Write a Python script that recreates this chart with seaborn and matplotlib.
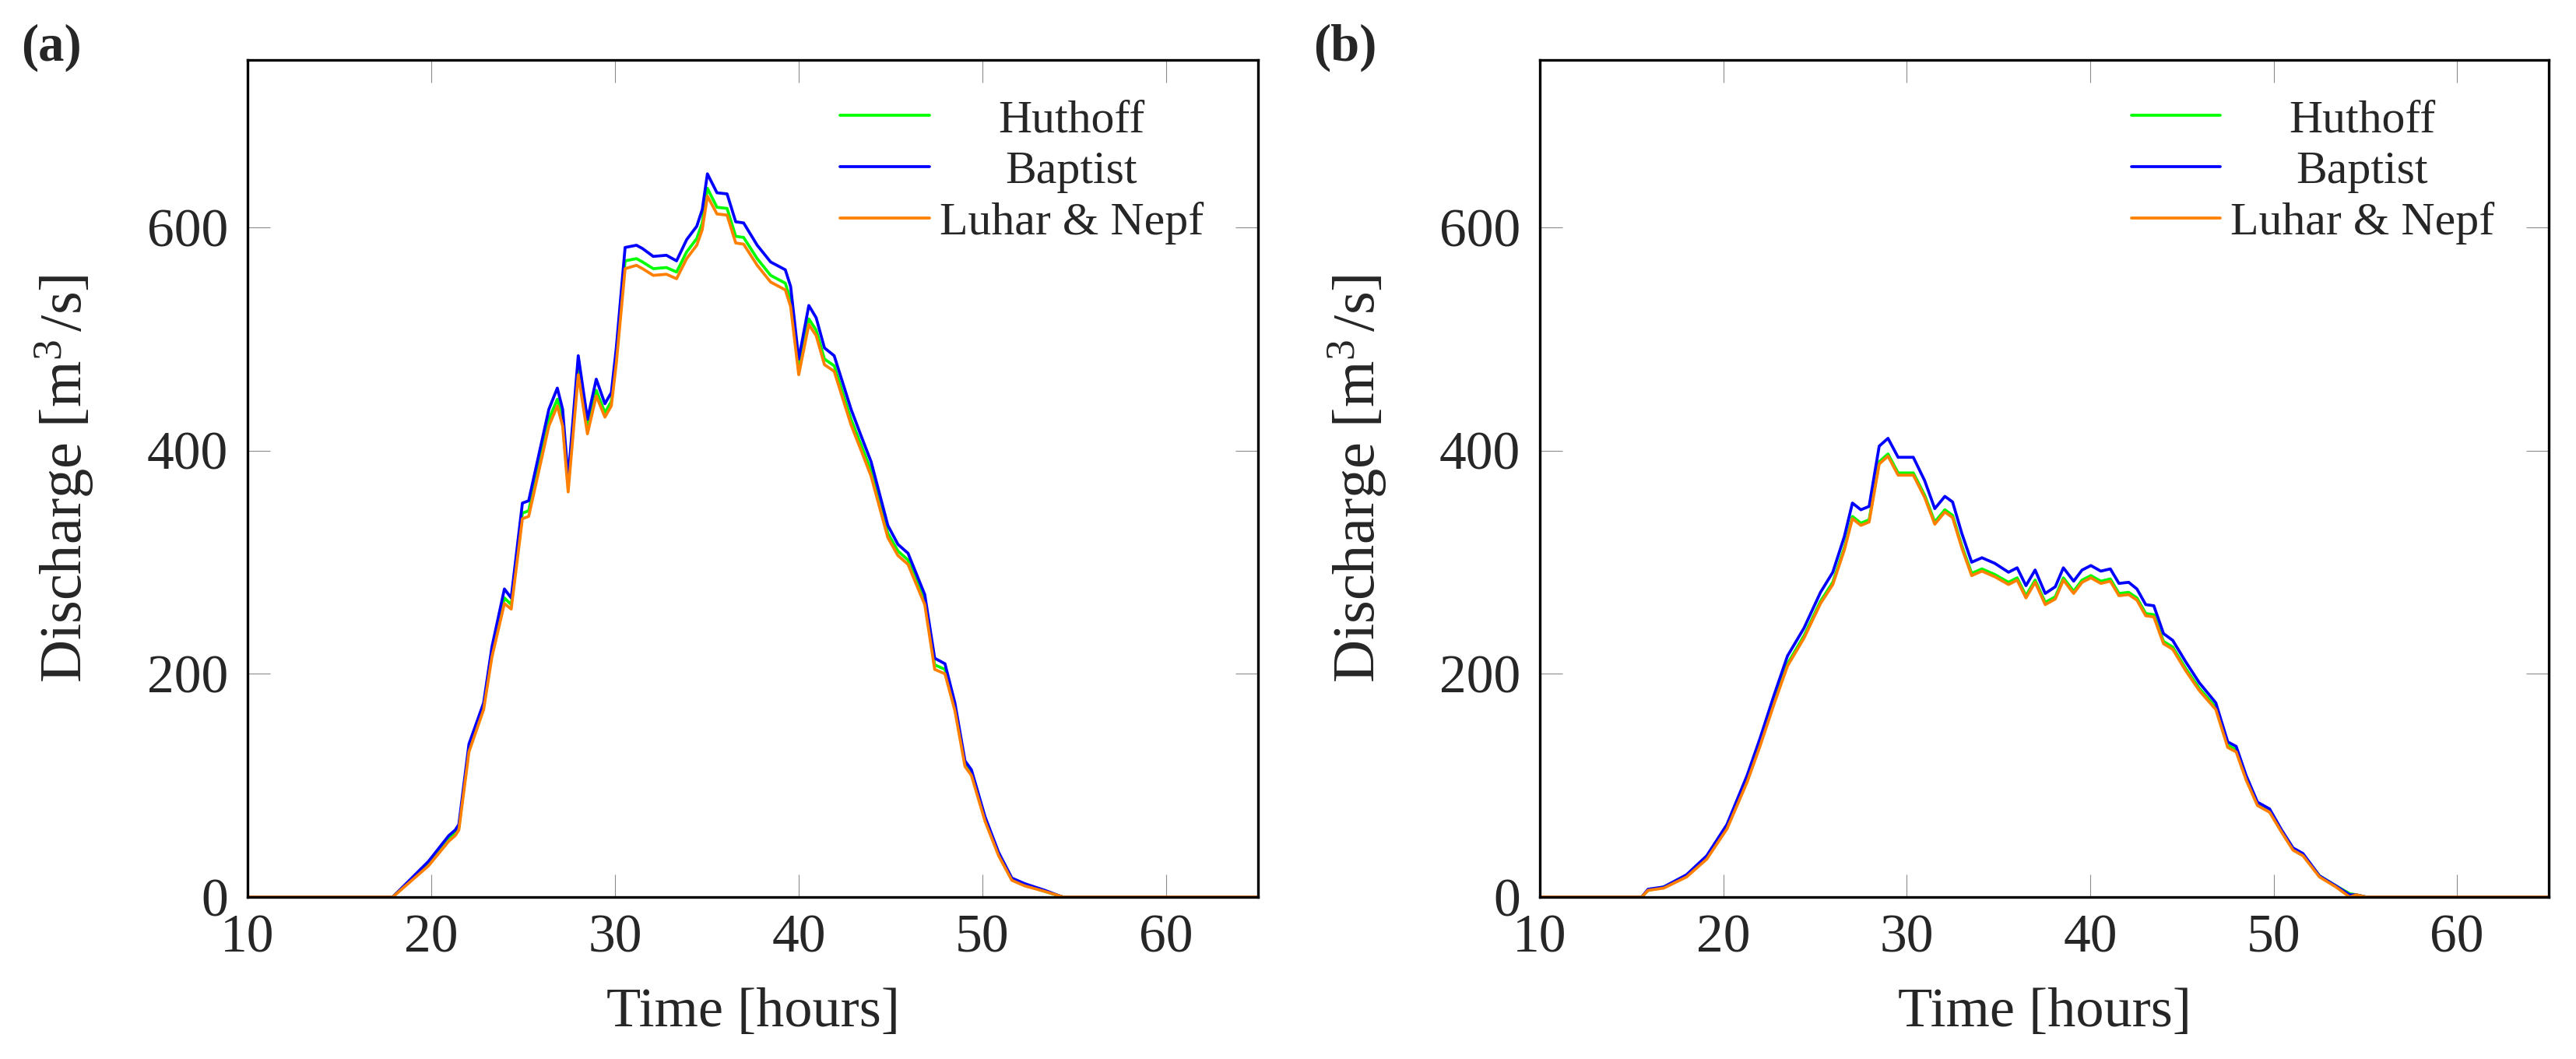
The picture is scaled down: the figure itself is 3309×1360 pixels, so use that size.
import numpy as np
import pandas as pd
import matplotlib
matplotlib.use("Agg")
import matplotlib.pyplot as plt
import seaborn as sns

# panel (a)
time_a = [10, 17.9, 19.85, 20.95, 21.3, 21.5, 22.05, 22.85, 23.3, 23.98,
          24.35, 24.96, 25.3, 26.4, 26.86, 27.15, 27.45, 28.0, 28.5, 28.98,
          29.45, 29.8, 30.07, 30.55, 31.17, 31.5, 32.08, 32.8, 33.35, 33.9,
          34.45, 34.75, 35.03, 35.55, 36.1, 36.57, 37.0, 37.74, 38.47, 39.27,
          39.56, 40.0, 40.55, 40.95, 41.4, 41.93, 42.85, 43.4, 43.94, 44.85,
          45.4, 45.95, 46.86, 47.4, 47.96, 48.5, 49.05, 49.4, 50.14, 50.88,
          51.6, 52.3, 53.4, 54.2, 54.4, 65]
huthoff_a = [0, 0, 30, 52, 57, 62, 134, 171, 219, 268,
             262, 344, 346, 428, 446, 428, 368, 474, 420, 454,
             434, 444, 483, 570, 572, 569, 563, 564, 560, 578,
             590, 604, 635, 618, 617, 592, 591, 572, 557, 550,
             535, 474, 518, 508, 482, 476, 428, 405, 382, 326,
             310, 302, 265, 208, 204, 170, 119, 111, 70, 38,
             16, 11, 5, 1, 0, 0]
baptist_a = [0, 0, 32, 55, 60, 65, 137, 174, 224, 276,
             268, 353, 355, 437, 456, 437, 375, 485, 428, 464,
             442, 452, 492, 582, 584, 581, 574, 575, 570, 589,
             601, 616, 648, 631, 630, 605, 604, 584, 569, 562,
             547, 482, 530, 519, 492, 485, 437, 413, 390, 333,
             316, 308, 271, 214, 209, 174, 122, 114, 72, 40,
             17, 12, 6, 1, 0, 0]
luhar_a = [0, 0, 28, 50, 55, 60, 130, 168, 215, 263,
           258, 339, 341, 422, 440, 422, 363, 468, 415, 449,
           430, 440, 478, 563, 566, 563, 557, 558, 554, 572,
           584, 598, 628, 612, 611, 586, 585, 566, 551, 544,
           529, 468, 513, 503, 477, 471, 423, 400, 377, 322,
           306, 298, 262, 204, 200, 167, 117, 109, 68, 37,
           15, 10, 5, 1, 0, 0]

# panel (b)
time_b = [10, 15.55, 15.9, 16.75, 18.0, 19.1, 20.2, 21.3, 22.0, 22.77,
          23.5, 24.4, 25.3, 25.97, 26.6, 27.04, 27.5, 27.95, 28.5, 28.98,
          29.53, 30.36, 30.98, 31.53, 32.08, 32.5, 33.0, 33.54, 34.1, 34.8,
          35.55, 36.02, 36.5, 37.0, 37.55, 38.1, 38.54, 39.1, 39.56, 40.04,
          40.58, 41.1, 41.57, 42.1, 42.55, 43.03, 43.47, 44.0, 44.5, 45.2,
          45.95, 46.85, 47.5, 47.96, 48.5, 49.12, 49.78, 50.44, 51.06, 51.6,
          52.5, 53.4, 54.15, 54.5, 55.05, 65]
huthoff_b = [0, 0, 6, 9, 19, 35, 62, 105, 137, 175,
             209, 234, 265, 282, 313, 341, 335, 338, 390, 397,
             380, 380, 360, 336, 347, 342, 315, 290, 294, 289,
             282, 286, 270, 284, 264, 269, 286, 274, 284, 288,
             283, 285, 272, 273, 268, 254, 253, 229, 224, 205,
             187, 170, 136, 132, 107, 83, 77, 59, 43, 38,
             19, 10, 3, 2, 0, 0]
baptist_b = [0, 0, 7, 9, 20, 37, 65, 109, 142, 181,
             216, 241, 273, 291, 323, 353, 347, 350, 404, 411,
             394, 394, 373, 348, 359, 354, 326, 300, 304, 299,
             291, 295, 279, 293, 272, 278, 295, 283, 293, 297,
             292, 294, 281, 282, 276, 262, 261, 236, 230, 211,
             192, 174, 139, 135, 109, 85, 79, 60, 44, 39,
             19, 10, 2, 2, 0, 0]
luhar_b = [0, 0, 6, 8, 18, 34, 61, 103, 135, 173,
           207, 232, 263, 280, 311, 339, 333, 336, 388, 395,
           378, 378, 358, 334, 345, 340, 313, 288, 292, 287,
           280, 284, 268, 282, 262, 267, 284, 272, 282, 286,
           281, 283, 270, 271, 266, 252, 251, 227, 222, 203,
           185, 168, 134, 130, 105, 82, 76, 58, 42, 37,
           18, 9, 0, 2, 0, 0]

models = ["Huthoff", "Baptist", "Luhar & Nepf"]
colors = {"Huthoff": "#00ff00", "Baptist": "#0000ff", "Luhar & Nepf": "#ff8000"}


def to_long(time, series):
    frames = []
    for name, vals in zip(models, series):
        frames.append(pd.DataFrame({"Time": time, "Discharge": vals, "Model": name}))
    return pd.concat(frames, ignore_index=True)


df_a = to_long(time_a, [huthoff_a, baptist_a, luhar_a])
df_b = to_long(time_b, [huthoff_b, baptist_b, luhar_b])

sns.set_style("white")
plt.rcParams["font.family"] = ["Liberation Serif", "DejaVu Serif"]
plt.rcParams["mathtext.fontset"] = "custom"
plt.rcParams["mathtext.rm"] = "Liberation Serif"
plt.rcParams["mathtext.it"] = "Liberation Serif:italic"

fig = plt.figure(figsize=(33.09, 13.60), dpi=100)
ax_a = fig.add_axes([318 / 3309, 208 / 1360, 1298 / 3309, 1075 / 1360])
ax_b = fig.add_axes([1978 / 3309, 208 / 1360, 1296 / 3309, 1075 / 1360])

legends = []
for ax, df, tag, tx in [(ax_a, df_a, "(a)", 27), (ax_b, df_b, "(b)", 1687)]:
    sns.lineplot(data=df, x="Time", y="Discharge", hue="Model", hue_order=models,
                 palette=colors, estimator=None, sort=False, linewidth=2.7, ax=ax)
    ax.set_xlim(10, 65)
    ax.set_ylim(0, 750)
    ax.set_xticks([10, 20, 30, 40, 50, 60])
    ax.set_yticks([0, 200, 400, 600])
    ax.tick_params(axis="both", which="major", direction="in", length=21, width=0.8,
                   color="#8c8c8c", labelsize=50, top=True, right=True,
                   bottom=True, left=True)
    ax.tick_params(axis="x", pad=16)
    ax.tick_params(axis="y", pad=18)
    for sp in ax.spines.values():
        sp.set_linewidth(2.4)
        sp.set_color("black")
    ax.set_xlabel("Time [hours]", fontsize=52)
    ax.set_ylabel("Discharge [m$^{3}\\,$/s]", fontsize=55)
    ax.xaxis.set_label_coords(0.5, -0.108)
    ax.yaxis.set_label_coords(-0.150, 0.5)
    leg = ax.legend(loc="upper right", bbox_to_anchor=(0.946, 0.953), frameon=False,
                    fontsize=43, handlelength=1.91, handletextpad=0.22,
                    labelspacing=0.18, borderpad=0, borderaxespad=0)
    legends.append(leg)
    fig.text(tx / 3309, 1 - 30 / 1360, tag, fontsize=48, fontweight="bold",
             va="top", ha="left")

# centre the legend entries in their column, like the original
fig.canvas.draw()
for leg in legends:
    widths = [t.get_window_extent().width for t in leg.get_texts()]
    wmax = max(widths)
    for t, w in zip(leg.get_texts(), widths):
        t.set_x((wmax - w) / 2)

fig.savefig("out.png", dpi=100)
